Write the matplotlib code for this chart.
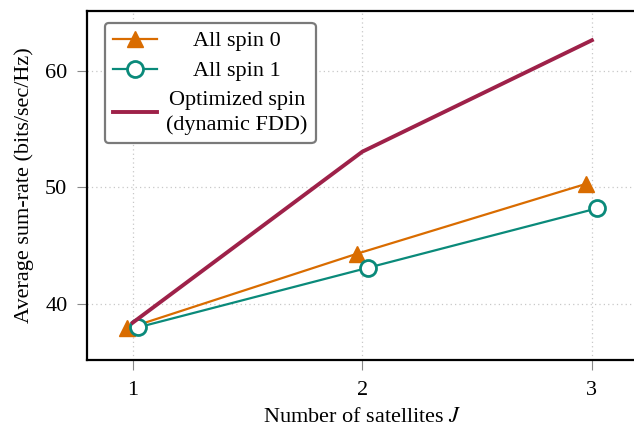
import matplotlib
matplotlib.use("Agg")
import matplotlib.pyplot as plt
import numpy as np

# ---- data ----
satellites = [1, 2, 3]
all_spin0 = [37.9, 44.3, 50.3]
all_spin1 = [38.0, 43.1, 48.2]
optimized = [38.4, 53.05, 62.6]
labels = ["All spin 0", "All spin 1", "Optimized spin\n(dynamic FDD)"]
xticks = [1, 2, 3]
yticks = [40, 50, 60]

# ---- style ----
c_orange = "#D96C00"
c_teal = "#0A8A7A"
c_purple = "#9E2149"
shift = 0.024  # pgfplots-like horizontal marker shift

plt.rcParams["font.family"] = ["Liberation Serif", "DejaVu Serif"]
plt.rcParams["mathtext.fontset"] = "stix"
fs = 16

fig = plt.figure(figsize=(6.34, 4.26), dpi=100)
ax = fig.add_axes([0.137, 0.155, 0.869, 0.819])

x = np.array(satellites, dtype=float)
ax.plot(x - shift, all_spin0, color=c_orange, lw=1.6, marker="^", ms=11,
        mfc=c_orange, mec=c_orange, label=labels[0], zorder=3)
ax.plot(x + shift, all_spin1, color=c_teal, lw=1.6, marker="o", ms=11.5,
        mfc="white", mec=c_teal, mew=2.0, label=labels[1], zorder=3)
ax.plot(x, optimized, color=c_purple, lw=2.8, label=labels[2], zorder=3)

ax.set_xlim(0.8, 3.2)
ax.set_ylim(35.2, 65.1)
ax.set_xticks(xticks)
ax.set_yticks(yticks)
ax.tick_params(axis="both", direction="out", length=7, width=0.8,
               color="#888888", labelsize=fs, pad=7)
ax.tick_params(axis="x", pad=8)
ax.grid(True, linestyle=(0, (1, 2.5)), color="#c8c8c8", linewidth=0.9)
for s in ax.spines.values():
    s.set_linewidth(1.6)
    s.set_color("black")

ax.set_xlabel("Number of satellites $J$", fontsize=fs, labelpad=6)
ax.set_ylabel("Average sum-rate (bits/sec/Hz)", fontsize=fs, labelpad=8)

leg = ax.legend(loc="upper left", bbox_to_anchor=(0.033, 0.966), borderaxespad=0,
                fontsize=fs, frameon=True, fancybox=True, framealpha=1.0,
                edgecolor="#7a7a7a", handlelength=2.0, handletextpad=0.4,
                labelspacing=0.42, borderpad=0.36)
leg.get_frame().set_linewidth(1.6)
for t in leg.get_texts():
    t.set_multialignment("center")
    t.set_linespacing(1.4)

fig.canvas.draw()
r = fig.canvas.get_renderer()
texts = leg.get_texts()
ws = [t.get_window_extent(r).width for t in texts]
wmax = max(ws)
for t, w in zip(texts, ws):
    t.set_x((wmax - w) / 2.0)

fig.savefig("out.png", dpi=100)
